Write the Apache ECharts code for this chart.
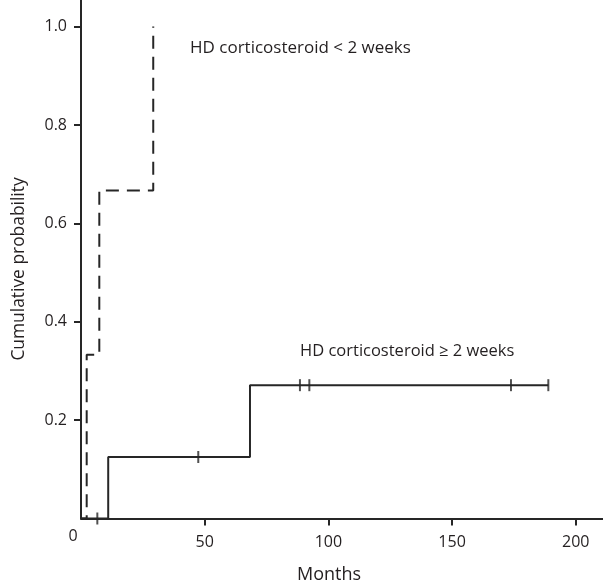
<!DOCTYPE html>
<html>
<head>
<meta charset="utf-8">
<script src="https://cdn.jsdelivr.net/npm/echarts@6/dist/echarts.min.js"></script>
<style>html,body{margin:0;padding:0;background:#fff}#c{width:603px;height:584px}</style>
</head>
<body>
<div id="c"></div>
<script>
// Data
var shortMonths = [0, 2.3, 7.4, 29.2];
var shortProb = [0, 0.333, 0.667, 1.0];
var longMonths = [0, 11, 68.3, 188.9];
var longProb = [0, 0.125, 0.271, 0.271];
var censorMonths = [6.6, 47.4, 88.5, 92.3, 173.8, 188.9];
var censorProb = [0, 0.125, 0.271, 0.271, 0.271, 0.271];
var xTickLabels = [0, 50, 100, 150, 200];
var yTickLabels = [0.2, 0.4, 0.6, 0.8, 1.0];
var shortLabel = 'HD corticosteroid < 2 weeks';
var longLabel = 'HD corticosteroid \u2265 2 weeks';
var xTitle = 'Months';
var yTitle = 'Cumulative probability';

function zip(a, b) { return a.map(function (v, i) { return [v, b[i]]; }); }

var FONT = 'Open Sans';
var TXT = '#231f20';
var AX = '#262626';

var chart = echarts.init(document.getElementById('c'));
var xNonZero = xTickLabels.filter(function (v) { return v !== 0; });
chart.setOption({
  animation: false,
  grid: { left: 81, right: 0, top: 0, bottom: 65.5 },
  xAxis: {
    type: 'value', min: 0, max: 211,
    splitLine: { show: false },
    axisLine: { lineStyle: { color: AX, width: 2 } },
    axisTick: { length: 7, lineStyle: { color: AX, width: 2 }, customValues: xNonZero },
    axisLabel: { customValues: xNonZero, margin: 16, color: TXT, fontFamily: FONT, fontSize: 16 }
  },
  yAxis: {
    type: 'value', min: 0, max: 1.054,
    splitLine: { show: false },
    axisLine: { show: true, lineStyle: { color: AX, width: 2 } },
    axisTick: { show: true, length: 7, lineStyle: { color: AX, width: 2 }, customValues: yTickLabels },
    axisLabel: { customValues: yTickLabels, margin: 14, color: TXT, fontFamily: FONT, fontSize: 16,
      formatter: function (v) { return v.toFixed(1); } }
  },
  series: [
    {
      type: 'line', step: 'end', data: zip(shortMonths, shortProb), symbol: 'none',
      lineStyle: { color: AX, width: 2, type: [13, 8], dashOffset: 4 }
    },
    {
      type: 'line', step: 'end', data: zip(longMonths, longProb), symbol: 'none',
      lineStyle: { color: AX, width: 2 }
    },
    {
      type: 'scatter', data: zip(censorMonths, censorProb), symbol: 'rect', symbolSize: [2, 12],
      itemStyle: { color: AX }
    }
  ],
  graphic: [
    { type: 'text', x: 73, y: 536, style: { text: String(xTickLabels[0]), fill: TXT, font: '16px "' + FONT + '"', textAlign: 'center', textVerticalAlign: 'middle' } },
    { type: 'text', x: 190, y: 48.5, style: { text: shortLabel, fill: TXT, font: '17px "' + FONT + '"', textAlign: 'left', textVerticalAlign: 'middle' } },
    { type: 'text', x: 300, y: 351.5, style: { text: longLabel, fill: TXT, font: '16.5px "' + FONT + '"', textAlign: 'left', textVerticalAlign: 'middle' } },
    { type: 'text', x: 329, y: 575, style: { text: xTitle, fill: TXT, font: '18px "' + FONT + '"', textAlign: 'center', textVerticalAlign: 'middle' } },
    { type: 'text', x: 19, y: 269, rotation: Math.PI / 2, style: { text: yTitle, fill: TXT, font: '17.4px "' + FONT + '"', textAlign: 'center', textVerticalAlign: 'middle' } }
  ]
});
</script>
</body>
</html>
